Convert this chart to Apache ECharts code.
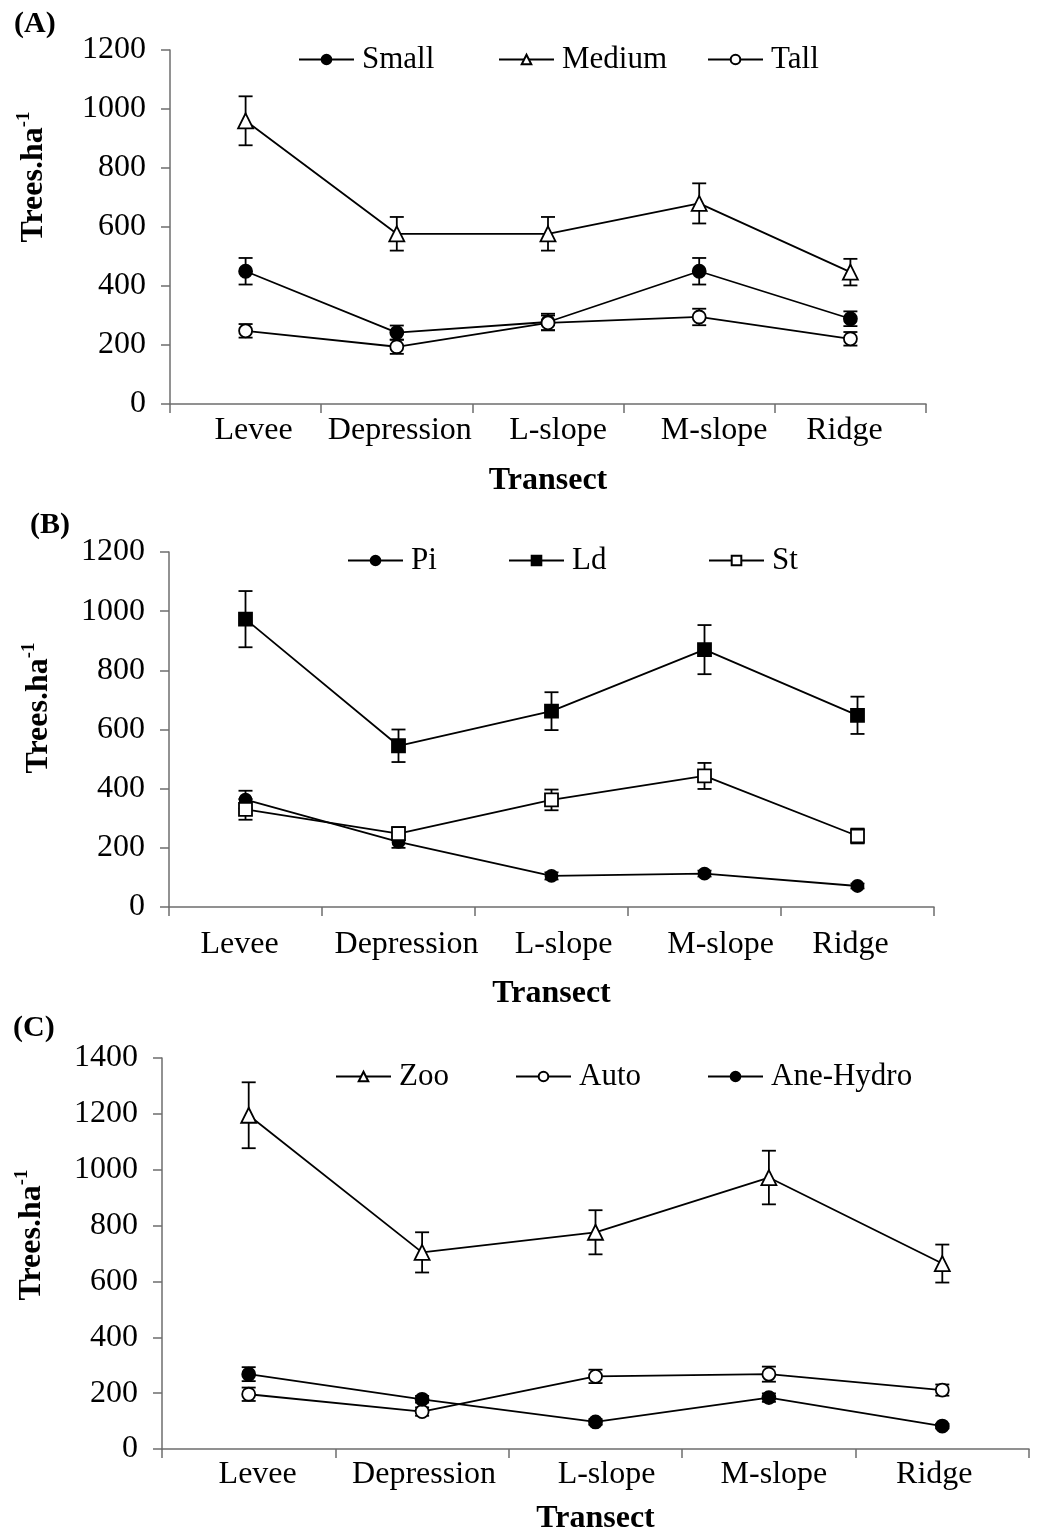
<!DOCTYPE html>
<html>
<head>
<meta charset="utf-8">
<script src="https://cdn.jsdelivr.net/npm/echarts@6/dist/echarts.min.js"></script>
<style>
html,body{margin:0;padding:0;background:#fff;}
#chart{width:1037px;height:1534px;}
</style>
</head>
<body>
<div id="chart"></div>
<script>
// ---- data ----
const categories = ['Levee', 'Depression', 'L-slope', 'M-slope', 'Ridge'];

// Panel A (tree size classes)
const smallMean  = [450, 242, 278, 450, 289];
const smallErr   = [45, 24, 28, 45, 25];
const mediumMean = [960, 577, 577, 680, 447];
const mediumErr  = [83, 57, 57, 68, 45];
const tallMean   = [248, 194, 275, 295, 221];
const tallErr    = [23, 24, 25, 28, 23];

// Panel B (species)
const piMean = [363, 220, 105, 113, 71];
const piErr  = [30, 20, 12, 10, 8];
const ldMean = [973, 545, 662, 870, 648];
const ldErr  = [95, 55, 64, 83, 63];
const stMean = [330, 248, 362, 443, 240];
const stErr  = [35, 22, 35, 44, 25];

// Panel C (dispersal)
const zooMean  = [1195, 704, 776, 972, 664];
const zooErr   = [118, 72, 79, 96, 68];
const autoMean = [196, 134, 260, 268, 211];
const autoErr  = [24, 15, 24, 27, 20];
const aneMean  = [268, 178, 97, 184, 82];
const aneErr   = [25, 12, 10, 15, 8];

// axis ranges [max, interval]
const yAxisA = [1200, 200];
const yAxisB = [1200, 200];
const yAxisC = [1400, 200];

// ---- layout / style (not data) ----
const FONT = 'Liberation Serif';
// horizontal nudges of the category labels (px), as placed in the original figure
const labelShiftA = [8, 3, 10, 15, -6];
const labelShiftB = [-6, 8, 12, 16, -7];
const labelShiftC = [9, 2, 11, 5, -8];

const chart = echarts.init(document.getElementById('chart'), null, {renderer: 'canvas'});

const grids = [
  {left: 170, top: 50,   width: 756, height: 354, outerBoundsMode: 'none', containLabel: false},
  {left: 169, top: 552,  width: 765, height: 355, outerBoundsMode: 'none', containLabel: false},
  {left: 162, top: 1058, width: 867, height: 391, outerBoundsMode: 'none', containLabel: false}
];

function xAxisDef(i, labelMargin, nameGap, shifts) {
  const rich = {};
  shifts.forEach((dx, k) => {
    rich['c' + k] = {
      fontFamily: FONT, fontSize: 32, color: '#000',
      padding: dx >= 0 ? [0, 0, 0, 2 * dx] : [0, -2 * dx, 0, 0]
    };
  });
  return {
    type: 'category', gridIndex: i, data: categories, boundaryGap: true,
    axisLine: {lineStyle: {color: '#6e6e6e', width: 1.5}},
    axisTick: {show: true, length: 9, lineStyle: {color: '#6e6e6e', width: 1.5}},
    axisLabel: {fontFamily: FONT, fontSize: 32, color: '#000', margin: labelMargin, interval: 0,
      formatter: function (v, idx) { return '{c' + idx + '|' + v + '}'; }, rich: rich},
    name: 'Transect', nameLocation: 'middle', nameGap: nameGap,
    nameTextStyle: {fontFamily: FONT, fontSize: 32, fontWeight: 'bold', color: '#000'},
    splitLine: {show: false}
  };
}
function yAxisDef(i, rng) {
  return {
    type: 'value', gridIndex: i, min: 0, max: rng[0], interval: rng[1],
    axisLine: {show: true, lineStyle: {color: '#6e6e6e', width: 1.5}},
    axisTick: {show: true, length: 9, lineStyle: {color: '#6e6e6e', width: 1.5}},
    axisLabel: {fontFamily: FONT, fontSize: 32, color: '#000', margin: 24,
      formatter: function (v) { return String(v); }},
    splitLine: {show: false}
  };
}

function lineSeries(name, mean, gi, symbol, filled, size) {
  return {
    type: 'line', name: name, xAxisIndex: gi, yAxisIndex: gi, data: mean,
    symbol: symbol, symbolSize: size, showSymbol: true, z: 3,
    lineStyle: {color: '#000', width: 1.8},
    itemStyle: {color: filled ? '#000' : '#fff', borderColor: '#000', borderWidth: 1.8},
    emphasis: {disabled: true}
  };
}
function errSeries(mean, err, gi) {
  return {
    type: 'custom', xAxisIndex: gi, yAxisIndex: gi, z: 2, silent: true,
    data: mean.map((m, i) => [i, m - err[i], m + err[i]]),
    renderItem: function (params, api) {
      const lo = api.coord([api.value(0), api.value(1)]);
      const hi = api.coord([api.value(0), api.value(2)]);
      const w = 7;
      const st = {stroke: '#000', lineWidth: 1.8};
      return {type: 'group', children: [
        {type: 'line', shape: {x1: lo[0], y1: lo[1], x2: hi[0], y2: hi[1]}, style: st},
        {type: 'line', shape: {x1: lo[0] - w, y1: lo[1], x2: lo[0] + w, y2: lo[1]}, style: st},
        {type: 'line', shape: {x1: hi[0] - w, y1: hi[1], x2: hi[0] + w, y2: hi[1]}, style: st}
      ]};
    }
  };
}

function legendDef(name, left, cy) {
  return {
    data: [name], left: left, top: cy - 16, padding: 0,
    itemWidth: 55, itemHeight: 12, selectedMode: false, itemGap: 0,
    textStyle: {fontFamily: FONT, fontSize: 31, color: '#000', padding: [0, 0, 0, 3]}
  };
}

function yName(x, y) {
  return {
    type: 'text', x: x, y: y, rotation: Math.PI / 2,
    style: {
      text: '{a|Trees.ha}{b|-1}',
      align: 'center', verticalAlign: 'middle',
      rich: {
        a: {fontFamily: FONT, fontSize: 32, fontWeight: 'bold', fill: '#000', verticalAlign: 'bottom', lineHeight: 35},
        b: {fontFamily: FONT, fontSize: 19, fontWeight: 'bold', fill: '#000', verticalAlign: 'top', lineHeight: 19}
      }
    }
  };
}
function panelLabel(txt, x, y) {
  return {type: 'text', x: x, y: y,
    style: {text: txt, fontFamily: FONT, fontSize: 30, fontWeight: 'bold', fill: '#000', align: 'left', verticalAlign: 'middle'}};
}

const option = {
  animation: false,
  backgroundColor: '#fff',
  grid: grids,
  xAxis: [xAxisDef(0, 11, 61, labelShiftA), xAxisDef(1, 22, 71, labelShiftB), xAxisDef(2, 10, 54, labelShiftC)],
  yAxis: [yAxisDef(0, yAxisA), yAxisDef(1, yAxisB), yAxisDef(2, yAxisC)],
  legend: [
    legendDef('Small', 298, 60), legendDef('Medium', 498, 60), legendDef('Tall', 707, 60),
    legendDef('Pi', 347, 561), legendDef('Ld', 508, 561), legendDef('St', 708, 561),
    legendDef('Zoo', 335, 1077), legendDef('Auto', 515, 1077), legendDef('Ane-Hydro', 707, 1077)
  ],
  graphic: [
    panelLabel('(A)', 14, 24), panelLabel('(B)', 30, 525), panelLabel('(C)', 13, 1028),
    yName(32, 177), yName(37, 708), yName(30, 1235)
  ],
  series: [
    errSeries(smallMean, smallErr, 0), errSeries(mediumMean, mediumErr, 0), errSeries(tallMean, tallErr, 0),
    lineSeries('Small', smallMean, 0, 'circle', true, 13),
    lineSeries('Medium', mediumMean, 0, 'triangle', false, 15),
    lineSeries('Tall', tallMean, 0, 'circle', false, 13),

    errSeries(piMean, piErr, 1), errSeries(ldMean, ldErr, 1), errSeries(stMean, stErr, 1),
    lineSeries('Pi', piMean, 1, 'circle', true, 12),
    lineSeries('Ld', ldMean, 1, 'rect', true, 13),
    lineSeries('St', stMean, 1, 'rect', false, 13),

    errSeries(zooMean, zooErr, 2), errSeries(autoMean, autoErr, 2), errSeries(aneMean, aneErr, 2),
    lineSeries('Zoo', zooMean, 2, 'triangle', false, 15),
    lineSeries('Auto', autoMean, 2, 'circle', false, 13),
    lineSeries('Ane-Hydro', aneMean, 2, 'circle', true, 13)
  ]
};
chart.setOption(option);
</script>
</body>
</html>
